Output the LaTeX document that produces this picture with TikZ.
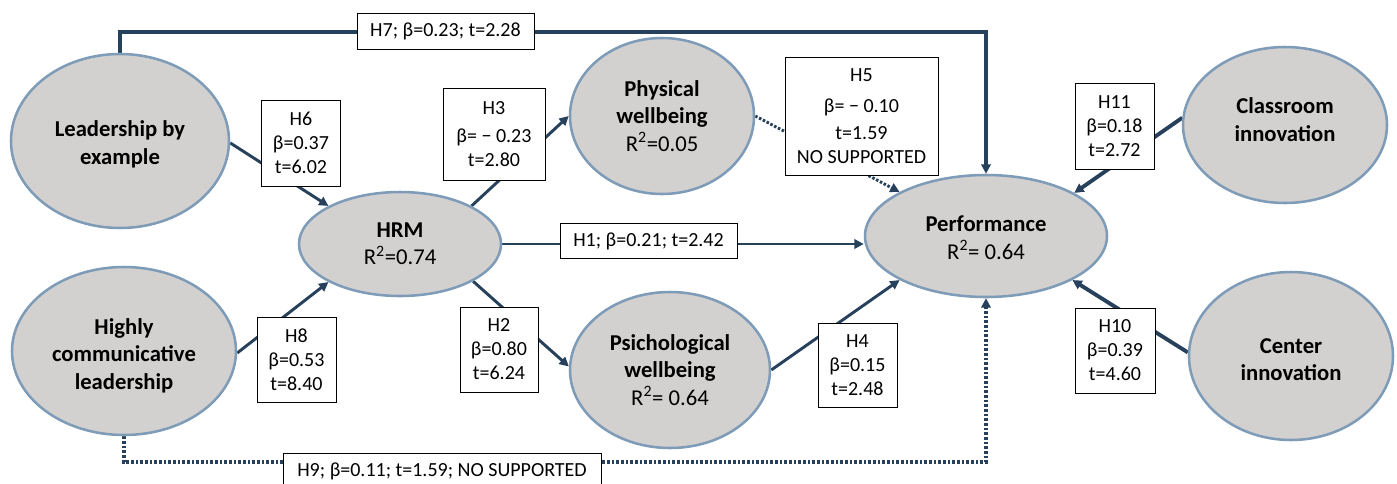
\documentclass[tikz,border=0pt]{standalone}
\usepackage{fontspec}
\setmainfont{Carlito}
\usetikzlibrary{arrows.meta,calc,backgrounds,shapes.geometric}
\definecolor{lineblue}{HTML}{27405C}
\definecolor{ellborder}{HTML}{7E9BB7}
\definecolor{ellfill}{HTML}{D3D1D0}
\begin{document}
\begin{tikzpicture}[x=0.75pt,y=-0.75pt,
  latent/.style={ellipse, draw=ellborder, line width=1.9pt, fill=ellfill, inner sep=0pt,
    align=center, font=\fontsize{17}{20.6}\selectfont},
  hbox/.style={draw=black, line width=0.75pt, fill=white, inner sep=0pt,
    align=center, font=\fontsize{15}{18}\selectfont},
  conn/.style={draw=lineblue, line width=2.2pt, -{Triangle[length=7pt,width=7pt]}},
  longconn/.style={conn, line width=2.7pt, -{Triangle[length=7pt,width=7pt]}},
  thickconn/.style={conn, line width=2.9pt},
  dotconn/.style={conn, dash pattern=on 1.9pt off 1.3pt},
  longdot/.style={longconn, dash pattern=on 2pt off 1.5pt}]
\useasboundingbox (0,0) rectangle (1397,483);
% latent variables
\node[latent, minimum width=163.5pt, minimum height=130.5pt] (lead) at (120,141)
  {\textbf{Leadership by}\rule{0pt}{17pt}\\\textbf{example}};
\node[latent, minimum width=168pt, minimum height=126pt] (high) at (124,351)
  {\textbf{Highly}\rule{0pt}{19pt}\\\textbf{communicative}\\\textbf{leadership}};
\node[latent, minimum width=151.5pt, minimum height=78pt] (hrm) at (400,244)
  {\textbf{HRM}\\R\textsuperscript{2}=0.74};
\node[latent, minimum width=138pt, minimum height=117pt] (phys) at (662,116)
  {\textbf{Physical}\\\textbf{wellbeing}\\R\textsuperscript{2}=0.05};
\node[latent, minimum width=150pt, minimum height=117pt] (psi) at (670,370)
  {\textbf{Psichological}\\\textbf{wellbeing}\\R\textsuperscript{2}= 0.64};
\node[latent, minimum width=181.5pt, minimum height=91.5pt] (perf) at (986,236)
  {\textbf{Performance}\rule{0pt}{14.5pt}\\R\textsuperscript{2}= 0.64};
\node[latent, minimum width=153pt, minimum height=117pt] (cls) at (1285,125)
  {\textbf{Classroom}\\\textbf{innovation}\rule[-8pt]{0pt}{8pt}};
\node[latent, minimum width=153pt, minimum height=126pt] (cen) at (1291,356)
  {\textbf{Center}\rule{0pt}{17pt}\\\textbf{innovation}};
% hypothesis boxes
\node[hbox, minimum width=132.75pt, minimum height=27pt] (h7) at (445.5,31) {H7; β=0.23; t=2.28};
\node[hbox, minimum width=59.25pt, minimum height=64.5pt] (h6) at (301,143) {H6\\β=0.37\\t=6.02};
\node[hbox, minimum width=76.5pt, minimum height=69pt] (h3) at (494,134) {H3\\[3pt]β= − 0.23\\t=2.80};
\node[hbox, minimum width=114.75pt, minimum height=88.5pt] (h5) at (861.5,116) {H5\\[5pt]β= − 0.10\\[2pt]t=1.59\\NO SUPPORTED};
\node[hbox, minimum width=132.75pt, minimum height=26.25pt] (h1) at (648.5,241) {H1; β=0.21; t=2.42};
\node[hbox, minimum width=59.25pt, minimum height=64.5pt] (h11) at (1114.5,126) {H11\\β=0.18\\t=2.72};
\node[hbox, minimum width=60pt, minimum height=63.75pt] (h10) at (1115,350.5) {H10\\β=0.39\\t=4.60};
\node[hbox, minimum width=59.25pt, minimum height=63.75pt] (h8) at (296.5,359.5) {H8\\β=0.53\\t=8.40};
\node[hbox, minimum width=58.5pt, minimum height=63.75pt] (h2) at (499,349.5) {H2\\β=0.80\\t=6.24};
\node[hbox, minimum width=59.25pt, minimum height=63pt] (h4) at (857.5,365) {H4\\β=0.15\\t=2.48};
\node[hbox, minimum width=238.5pt, minimum height=27pt] (h9) at (442,471) {H9; β=0.11; t=1.59; NO SUPPORTED};
% connectors
\begin{pgfonlayer}{background}
\draw[conn] (lead.-1) -- (hrm.152);
\draw[conn] (high.-1) -- (hrm.208);
\draw[conn] (hrm.28) -- (phys.west);
\draw[conn] (hrm.-27) -- (psi.178);
\draw[conn] (hrm.east) -- (hrm.east -| perf.west);
\draw[dotconn] (phys.east) -- (perf.153);
\draw[conn] (psi.east) -- (perf.207);
\draw[thickconn] (cls.176) -- (perf.26);
\draw[thickconn] (cen.178) -- (perf.-27);
\coordinate (h7l) at ($(h7.west)+(0,1)$);
\draw[longconn] (lead.north) |- (h7l) -| (perf.north);
\coordinate (h9l) at ($(h9.west)+(0,-9)$);
\draw[longdot] (high.south) |- (h9l) -| (perf.south);
\end{pgfonlayer}
\end{tikzpicture}
\end{document}
